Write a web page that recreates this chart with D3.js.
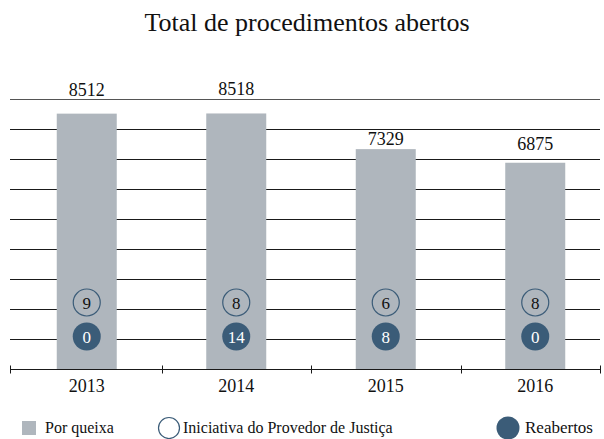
<!DOCTYPE html>
<html>
<head>
<meta charset="utf-8">
<script src="https://cdn.jsdelivr.net/npm/d3@7"></script>
<style>
  body { margin: 0; background: #fff; }
</style>
</head>
<body>
<svg id="chart" width="604" height="439" font-family="Liberation Serif, serif"></svg>
<script>
var years = ['2013', '2014', '2015', '2016'];
var porQueixa = [8512, 8518, 7329, 6875];
var iniciativa = [9, 8, 6, 8];
var reabertos = [0, 14, 8, 0];
var gridTicks = [1000, 2000, 3000, 4000, 5000, 6000, 7000, 8000, 9000];
var legendLabels = ['Por queixa', 'Iniciativa do Provedor de Justiça', 'Reabertos'];

var barColor = '#afb6bd';
var darkBlue = '#3b5c78';
var ink = '#111';

var svg = d3.select('#chart');

var x = d3.scaleBand().domain(years).range([12, 610]).paddingInner(0).paddingOuter(0);
var y = d3.scaleLinear().domain([0, 9000]).range([369, 99]);
var barW = 60;

function cx(i) { return x(years[i]) + x.bandwidth() / 2; }

// title
svg.append('text')
  .attr('x', 307).attr('y', 31)
  .attr('text-anchor', 'middle')
  .attr('font-size', 26)
  .attr('fill', ink)
  .text('Total de procedimentos abertos');

// gridlines
svg.selectAll('line.grid')
  .data(gridTicks)
  .enter().append('line')
  .attr('class', 'grid')
  .attr('x1', 10).attr('x2', 600)
  .attr('y1', function(d) { return Math.round(y(d)) + 0.5; })
  .attr('y2', function(d) { return Math.round(y(d)) + 0.5; })
  .attr('stroke', function(d) { return d === 9000 ? '#555' : '#1a1a1a'; })
  .attr('stroke-width', 1);

// bars
svg.selectAll('rect.bar')
  .data(porQueixa)
  .enter().append('rect')
  .attr('class', 'bar')
  .attr('x', function(d, i) { return cx(i) - barW / 2; })
  .attr('y', function(d) { return y(d); })
  .attr('width', barW)
  .attr('height', function(d) { return y(0) - y(d); })
  .attr('fill', barColor);

// value labels (offsets above bar top vary in the original)
var labelGap = [18, 18, 4, 13];
svg.selectAll('text.val')
  .data(porQueixa)
  .enter().append('text')
  .attr('class', 'val')
  .attr('x', function(d, i) { return cx(i); })
  .attr('y', function(d, i) { return y(d) - labelGap[i]; })
  .attr('text-anchor', 'middle')
  .attr('font-size', 18)
  .attr('fill', ink)
  .text(function(d) { return d; });

// circles
svg.selectAll('circle.ini')
  .data(iniciativa)
  .enter().append('circle')
  .attr('class', 'ini')
  .attr('cx', function(d, i) { return cx(i); })
  .attr('cy', 302.5)
  .attr('r', 13.5)
  .attr('fill', 'none')
  .attr('stroke', darkBlue)
  .attr('stroke-width', 1.2);

svg.selectAll('text.ini')
  .data(iniciativa)
  .enter().append('text')
  .attr('class', 'ini')
  .attr('x', function(d, i) { return cx(i); })
  .attr('y', 308.5)
  .attr('text-anchor', 'middle')
  .attr('font-size', 17)
  .attr('fill', ink)
  .text(function(d) { return d; });

svg.selectAll('circle.reab')
  .data(reabertos)
  .enter().append('circle')
  .attr('class', 'reab')
  .attr('cx', function(d, i) { return cx(i); })
  .attr('cy', 336.5)
  .attr('r', 14)
  .attr('fill', darkBlue);

svg.selectAll('text.reab')
  .data(reabertos)
  .enter().append('text')
  .attr('class', 'reab')
  .attr('x', function(d, i) { return cx(i); })
  .attr('y', 342.5)
  .attr('text-anchor', 'middle')
  .attr('font-size', 17)
  .attr('fill', '#fff')
  .text(function(d) { return d; });

// x axis
var axisY = 369.5;
svg.append('line')
  .attr('x1', 10).attr('x2', 600)
  .attr('y1', axisY).attr('y2', axisY)
  .attr('stroke', '#1a1a1a');

var tickXs = years.map(function(d) { return x(d); }).concat([600]);
tickXs[0] = 10;
svg.selectAll('line.tick')
  .data(tickXs)
  .enter().append('line')
  .attr('class', 'tick')
  .attr('x1', function(d) { return Math.round(d) + 0.5; })
  .attr('x2', function(d) { return Math.round(d) + 0.5; })
  .attr('y1', axisY - 4).attr('y2', axisY + 4)
  .attr('stroke', '#1a1a1a');

svg.selectAll('text.year')
  .data(years)
  .enter().append('text')
  .attr('class', 'year')
  .attr('x', function(d) { return x(d) + x.bandwidth() / 2; })
  .attr('y', 392)
  .attr('text-anchor', 'middle')
  .attr('font-size', 18)
  .attr('fill', ink)
  .text(function(d) { return d; });

// legend
var lg = svg.append('g').attr('font-size', 16).attr('fill', ink);
lg.append('rect')
  .attr('x', 22).attr('y', 421).attr('width', 14).attr('height', 14)
  .attr('fill', barColor);
lg.append('text').attr('x', 45).attr('y', 433).text(legendLabels[0]);

lg.append('circle')
  .attr('cx', 169).attr('cy', 428).attr('r', 10.5)
  .attr('fill', 'none').attr('stroke', darkBlue).attr('stroke-width', 1.2);
lg.append('text').attr('x', 183).attr('y', 433).text(legendLabels[1]);

lg.append('circle')
  .attr('cx', 508).attr('cy', 428).attr('r', 11.5)
  .attr('fill', darkBlue);
lg.append('text').attr('x', 525).attr('y', 433).attr('font-size', 17).text(legendLabels[2]);
</script>
</body>
</html>
